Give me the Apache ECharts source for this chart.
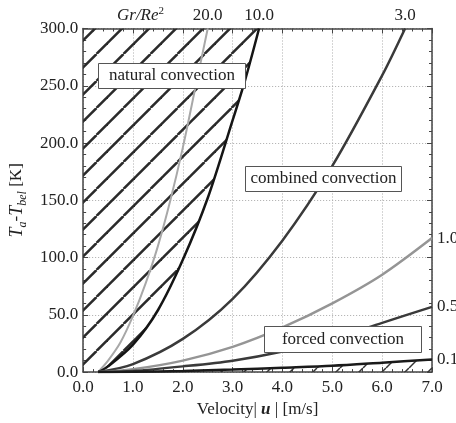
<!DOCTYPE html>
<html>
<head>
<meta charset="utf-8">
<script src="https://cdn.jsdelivr.net/npm/echarts@6/dist/echarts.min.js"></script>
<style>
    html, body { margin: 0; padding: 0; background: #fff; }
    #chart { width: 456px; height: 423px; }
</style>
</head>
<body>
<div id="chart"></div>
<script>
// values
const curveNames = ['20.0', '10.0', '3.0', '1.0', '0.5', '0.1'];

const u20 = [0.3, 0.5, 0.75, 1.0, 1.25, 1.5, 1.75, 2.0, 2.25, 2.5];
const t20 = [0, 10, 26, 49, 77, 110, 150, 196, 248, 300];

const u10 = [0.3, 0.5, 1.0, 1.5, 2.0, 2.5, 3.0, 3.25, 3.53];
const t10 = [0, 5, 24, 54, 98, 152, 220, 255, 300];

const u3 = [0.3, 1, 2, 3, 4, 5, 6, 6.46];
const t3 = [0, 7, 29, 64, 115, 180, 259, 300];

const u1 = [0.3, 1, 2, 3, 4, 5, 6, 7];
const t1 = [0, 2.5, 10, 22, 39, 60, 85, 117];

const u05 = [0.3, 1, 2, 3, 4, 5, 6, 7];
const t05 = [0, 1, 5, 10, 18, 29, 43, 57];

const u01 = [0.3, 1, 2, 3, 4, 5, 6, 7];
const t01 = [0, 0.3, 1, 2.2, 3.8, 5.5, 8.2, 11];

const xTicks = [0, 1, 2, 3, 4, 5, 6, 7];
const yTicks = [0, 50, 100, 150, 200, 250, 300];

const FONT = 'Liberation Serif';

// diagonal hatch tile, lines x + y = offset (mod size)
function hatch(size, width, color, offset) {
    const c = document.createElement('canvas');
    c.width = size;
    c.height = size;
    const ctx = c.getContext('2d');
    ctx.strokeStyle = color;
    ctx.lineWidth = width;
    for (let k = -1; k <= 2; k++) {
        const s = offset + k * size;
        ctx.beginPath();
        ctx.moveTo(s, 0);
        ctx.lineTo(s - size, size);
        ctx.stroke();
    }
    return c;
}

const pairs = (us, ts) => us.map((u, i) => [u, ts[i]]);

const curve = (name, us, ts, color, width, pos) => {
    const data = pairs(us, ts).map((p, i, arr) => {
        if (i < arr.length - 1) return p;
        return {
            value: p,
            label: {
                show: true,
                position: pos,
                distance: pos === 'top' ? 4 : 5,
                formatter: name,
                fontFamily: FONT,
                fontSize: 17,
                color: '#222'
            }
        };
    });
    return {
        name: name,
        type: 'line',
        data: data,
        symbol: 'circle',
        symbolSize: 0,
        showSymbol: true,
        smooth: 0.3,
        lineStyle: { color: color, width: width },
        itemStyle: { color: color },
        z: 5
    };
};

const box = (left, top, w, h, text) => ({
    type: 'group', left: left, top: top, z: 100,
    children: [
        { type: 'rect', z: 100, shape: { x: 0, y: 0, width: w, height: h }, style: { fill: '#fff', stroke: '#555', lineWidth: 1 } },
        { type: 'text', z: 101, x: w / 2, y: h / 2, style: { text: text, fontFamily: FONT, fontSize: 17, fill: '#222', align: 'center', verticalAlign: 'middle' } }
    ]
});

const chart = echarts.init(document.getElementById('chart'), null, { renderer: 'canvas' });

const axisCommon = {
    axisLine: { show: true, onZero: false, lineStyle: { color: '#444', width: 1.5 } },
    axisTick: { show: true, inside: true, length: 5, lineStyle: { color: '#444' } },
    minorTick: { show: true, splitNumber: 5, length: 3, lineStyle: { color: '#444' } }
};

const gridLine = { show: true, lineStyle: { color: '#aaa', type: [1, 2], width: 1 } };

const option = {
    animation: false,
    backgroundColor: '#fff',
    grid: { left: 82, right: 24, top: 28.5, bottom: 48, containLabel: false },
    xAxis: [
        {
            type: 'value', min: 0, max: 7, interval: 1, position: 'bottom',
            ...axisCommon,
            splitLine: gridLine,
            axisLabel: {
                margin: 7, fontFamily: FONT, fontSize: 17, color: '#222',
                formatter: (v) => xTicks.includes(v) ? v.toFixed(1) : ''
            },
            name: '{n|Velocity| }{u|u}{n| | [m/s]}',
            nameLocation: 'middle',
            nameGap: 27,
            nameTextStyle: {
                rich: {
                    n: { fontFamily: FONT, fontSize: 17, color: '#222' },
                    u: { fontFamily: FONT, fontSize: 17, color: '#222', fontStyle: 'italic', fontWeight: 'bold' }
                }
            }
        },
        {
            type: 'value', min: 0, max: 7, interval: 1, position: 'top',
            ...axisCommon,
            splitLine: { show: false },
            axisLabel: { show: false }
        }
    ],
    yAxis: [
        {
            type: 'value', min: 0, max: 300, interval: 50, position: 'left',
            ...axisCommon,
            splitLine: gridLine,
            axisLabel: {
                margin: 5, fontFamily: FONT, fontSize: 17, color: '#222',
                formatter: (v) => yTicks.includes(v) ? v.toFixed(1) : ''
            },
            name: '{i|T}{s|a}{n|-}{i|T}{s|bel}{n| [K]}',
            nameLocation: 'middle',
            nameRotate: 90,
            nameGap: 50,
            nameTextStyle: {
                rich: {
                    i: { fontFamily: FONT, fontSize: 18, color: '#222', fontStyle: 'italic', lineHeight: 24 },
                    n: { fontFamily: FONT, fontSize: 17, color: '#222', lineHeight: 24 },
                    s: { fontFamily: FONT, fontSize: 12, color: '#222', fontStyle: 'italic', lineHeight: 12, verticalAlign: 'bottom' }
                }
            }
        },
        {
            type: 'value', min: 0, max: 300, interval: 50, position: 'right',
            ...axisCommon,
            splitLine: { show: false },
            axisLabel: { show: false }
        }
    ],
    series: [
        {
            name: 'natural',
            type: 'line',
            data: [[0, 0]].concat(pairs(u10, t10)),
            showSymbol: false,
            smooth: 0.3,
            lineStyle: { width: 0 },
            areaStyle: {
                origin: 'end',
                color: { image: hatch(27, 2.5, '#2a2a2a', 15.5), repeat: 'repeat' },
                opacity: 1
            },
            z: 2
        },
        {
            name: 'forced',
            type: 'line',
            data: pairs(u01, t01),
            showSymbol: false,
            smooth: 0.3,
            lineStyle: { width: 0 },
            areaStyle: {
                origin: 'start',
                color: { image: hatch(23, 1.5, '#333', 18), repeat: 'repeat' },
                opacity: 1
            },
            z: 2
        },
        curve(curveNames[0], u20, t20, '#a8a8a8', 2, 'top'),
        curve(curveNames[1], u10, t10, '#151515', 2.5, 'top'),
        curve(curveNames[2], u3, t3, '#3a3a3a', 2.5, 'top'),
        curve(curveNames[3], u1, t1, '#959595', 2.5, 'right'),
        curve(curveNames[4], u05, t05, '#3a3a3a', 2.5, 'right'),
        curve(curveNames[5], u01, t01, '#1a1a1a', 2.5, 'right')
    ],
    graphic: [
        {
            type: 'text', left: 117, top: 6, z: 100,
            style: {
                text: '{i|Gr/Re}{p|2}',
                rich: {
                    i: { fontFamily: FONT, fontSize: 17, fontStyle: 'italic', fill: '#222', lineHeight: 20 },
                    p: { fontFamily: FONT, fontSize: 11, fill: '#222', lineHeight: 11, verticalAlign: 'top' }
                }
            }
        },
        box(98, 63, 147, 25, 'natural convection'),
        box(245, 166, 156, 25, 'combined convection'),
        box(264, 326, 157, 26, 'forced convection')
    ]
};

chart.setOption(option);
</script>
</body>
</html>
